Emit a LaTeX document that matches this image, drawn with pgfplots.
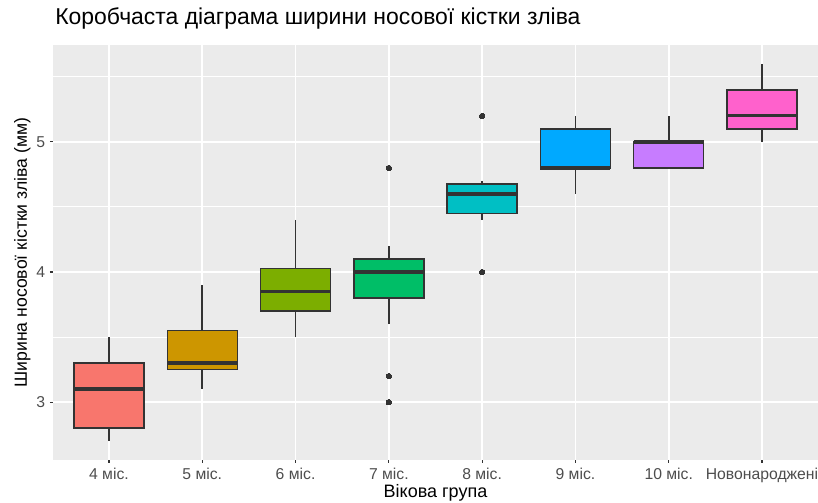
\documentclass[border=0pt]{standalone}
\usepackage{fontspec}
\setmainfont{Liberation Sans}
\usepackage{pgfplots}
\pgfplotsset{compat=1.18}
\usepgfplotslibrary{statistics}

% ggplot2 hue palette for eight groups
\definecolor{c1}{HTML}{F8766D}
\definecolor{c2}{HTML}{CD9600}
\definecolor{c3}{HTML}{7CAE00}
\definecolor{c4}{HTML}{00BE67}
\definecolor{c5}{HTML}{00BFC4}
\definecolor{c6}{HTML}{00A9FF}
\definecolor{c7}{HTML}{C77CFF}
\definecolor{c8}{HTML}{FF61CC}
\definecolor{panel}{HTML}{EBEBEB}
\definecolor{grey20}{HTML}{333333}
\definecolor{grey30}{HTML}{4D4D4D}

\pgfplotsset{
  gbox/.style={
    draw=grey20, line width=1.1pt,
    mark=*, mark size=2pt,
    mark options={fill=grey20, draw=grey20, line width=0pt},
  },
}

\begin{document}
\begin{tikzpicture}
\begin{axis}[
  scale only axis,
  width=573.75pt, height=311.25pt,
  xmin=0.4, xmax=8.6, ymin=2.555, ymax=5.745,
  xtick={1,2,3,4,5,6,7,8},
  xticklabels={4 міс., 5 міс., 6 міс., 7 міс., 8 міс., 9 міс., 10 міс., Новонароджені},
  ytick={3,4,5},
  minor ytick={3.5,4.5,5.5},
  grid=both,
  major grid style={white, line width=1.4pt},
  minor grid style={white, line width=0.7pt},
  axis background/.style={fill=panel},
  axis line style={draw=none},
  tick pos=left, tick align=outside,
  major tick length=2.25pt, minor tick length=0pt,
  tick style={grey20, line width=0.8pt},
  /pgf/number format/assume math mode=true,
  tick label style={font=\fontsize{11.8}{14}\selectfont, text=grey30, inner sep=0pt},
  xticklabel style={anchor=north, yshift=-3.5pt},
  yticklabel style={anchor=east, xshift=-3.5pt},
  title={Коробчаста діаграма ширини носової кістки зліва},
  title style={at={(axis description cs:0.0026,1.0313)}, anchor=base west,
    font=\fontsize{17.2}{20}\selectfont, inner sep=0pt},
  xlabel={Вікова група},
  xlabel style={at={(axis description cs:0.5,-0.0892)}, anchor=base,
    font=\fontsize{13.5}{16}\selectfont, inner sep=0pt},
  ylabel={Ширина носової кістки зліва (мм)},
  ylabel style={at={(axis description cs:-0.034,0.5)}, anchor=base,
    font=\fontsize{13.2}{16}\selectfont, inner sep=0pt},
  boxplot/draw direction=y,
  boxplot/box extend=0.75,
  boxplot/whisker extend=0,
  boxplot/every whisker/.style={line width=1.3pt},
  boxplot/every median/.style={line width=2.4pt},
]
% 4 міс.
\addplot[gbox, fill=c1, boxplot prepared={draw position=1,
  lower whisker=2.7, lower quartile=2.8, median=3.1,
  upper quartile=3.3, upper whisker=3.5}] coordinates {};
% 5 міс.
\addplot[gbox, fill=c2, boxplot prepared={draw position=2,
  lower whisker=3.1, lower quartile=3.25, median=3.3,
  upper quartile=3.55, upper whisker=3.9}] coordinates {};
% 6 міс.
\addplot[gbox, fill=c3, boxplot prepared={draw position=3,
  lower whisker=3.5, lower quartile=3.7, median=3.85,
  upper quartile=4.025, upper whisker=4.4}] coordinates {};
% 7 міс.
\addplot[gbox, fill=c4, boxplot prepared={draw position=4,
  lower whisker=3.6, lower quartile=3.8, median=4.0,
  upper quartile=4.1, upper whisker=4.2}]
  table[row sep=\\, y index=0] {y\\ 4.8\\ 3.2\\ 3.0\\};
% 8 міс.
\addplot[gbox, fill=c5, boxplot prepared={draw position=5,
  lower whisker=4.4, lower quartile=4.45, median=4.6,
  upper quartile=4.675, upper whisker=4.7}]
  table[row sep=\\, y index=0] {y\\ 5.2\\ 4.0\\};
% 9 міс.
\addplot[gbox, fill=c6, boxplot prepared={draw position=6,
  lower whisker=4.6, lower quartile=4.8, median=4.8,
  upper quartile=5.1, upper whisker=5.2}] coordinates {};
% 10 міс.
\addplot[gbox, fill=c7, boxplot prepared={draw position=7,
  lower whisker=4.8, lower quartile=4.8, median=5.0,
  upper quartile=5.0, upper whisker=5.2}] coordinates {};
% Новонароджені
\addplot[gbox, fill=c8, boxplot prepared={draw position=8,
  lower whisker=5.0, lower quartile=5.1, median=5.2,
  upper quartile=5.4, upper whisker=5.6}] coordinates {};
\end{axis}
\pgfresetboundingbox
\path[use as bounding box] ([shift={(-39.75pt,-32.25pt)}]current axis.south west)
  rectangle ++(613.5pt,377.25pt);
\end{tikzpicture}
\end{document}
